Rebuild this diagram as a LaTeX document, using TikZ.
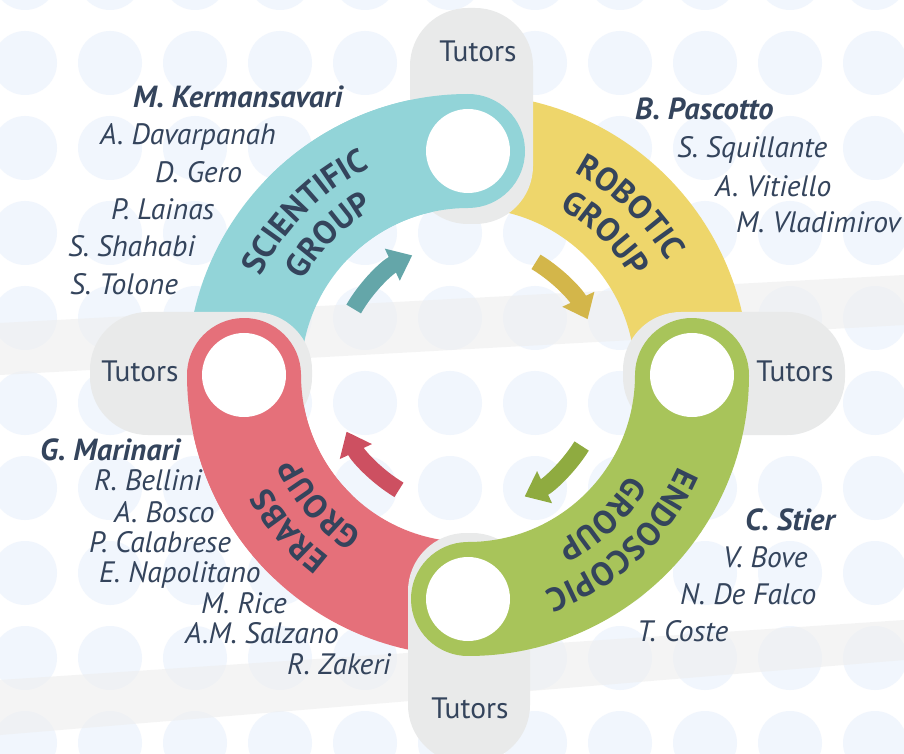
\documentclass[tikz,border=0pt]{standalone}
\usepackage{fontspec}
\setmainfont{PT Sans}
\usetikzlibrary{decorations.text,arrows.meta}
\definecolor{navy}{HTML}{34445C}
\definecolor{cyanb}{HTML}{92D4D8}
\definecolor{yelb}{HTML}{EED66B}
\definecolor{greenb}{HTML}{A8C45A}
\definecolor{redb}{HTML}{E5707A}
\definecolor{grayb}{HTML}{E9EAEA}
\definecolor{dotc}{HTML}{F1F6FD}
\definecolor{wmark}{HTML}{EEEEEE}
\definecolor{tealA}{HTML}{64A6A9}
\definecolor{yelA}{HTML}{D3B64A}
\definecolor{greenA}{HTML}{8FAB40}
\definecolor{redA}{HTML}{CD5061}
\begin{document}
\begin{tikzpicture}[x=1pt,y=1pt,
 band/.style={line width=114pt},
 tutorbox/.style={fill=grayb, rounded corners=58pt},
 hole/.style={circle, fill=white, minimum size=84pt, inner sep=0pt},
 namestyle/.style={anchor=base west, text=navy, font=\fontsize{29.5}{29.5}\selectfont\itshape, inner sep=0pt},
 leadstyle/.style={anchor=base west, text=navy, font=\fontsize{30.5}{30.5}\selectfont\bfseries\itshape, inner sep=0pt},
 tutorstyle/.style={anchor=base, text=navy, font=\fontsize{29.5}{29.5}\selectfont, inner sep=0pt},
 arr/.style={line width=17pt, -{Triangle[width=34pt,length=22pt]}},
]
\useasboundingbox (0,0) rectangle (904,753);
\fill[white] (0,0) rectangle (904,753);
% dotted background
\foreach \i in {0,...,10}{\foreach \j in {-1,...,8}{\fill[dotc] (25+85*\i, 690-85*\j) circle[radius=32pt];}}
% faint brush strokes
\fill[wmark, opacity=0.6] (0,430) -- (904,478) -- (904,428) -- (0,378) -- cycle;
\fill[wmark, opacity=0.6] (0,73) -- (904,133) -- (904,93) -- (0,18) -- cycle;
\coordinate (C) at (468,378);
% bands, first pass
\draw[band, yelb] ([shift={(90:224)}]C) arc[start angle=90, end angle=0, radius=224];
\draw[band, cyanb] ([shift={(180:224)}]C) arc[start angle=180, end angle=90, radius=224];
\draw[band, redb] ([shift={(270:224)}]C) arc[start angle=270, end angle=180, radius=224];
% tutor boxes
\fill[tutorbox] (410,529) rectangle (533,745);
\fill[tutorbox] (408,-10) rectangle (530,220);
\fill[tutorbox] (90,318) rectangle (312,441);
\fill[tutorbox] (623,318) rectangle (845,441);
% bands, second pass (over boxes)
\draw[band, cyanb, line cap=round] ([shift={(135:224)}]C) arc[start angle=135, end angle=90, radius=224];
\draw[band, redb, line cap=round] ([shift={(225:224)}]C) arc[start angle=225, end angle=180, radius=224];
\draw[band, greenb, line cap=round] ([shift={(0:224)}]C) arc[start angle=0, end angle=-90, radius=224];
% holes
\node[hole] (htop) at (468,602) {};
\node[hole] (hright) at (692,378) {};
\node[hole] (hbottom) at (468,154) {};
\node[hole] (hleft) at (244,378) {};
% arrows
\draw[arr, tealA] ([shift={(150:132)}]C) arc[start angle=150, end angle=115, radius=132];
\draw[arr, yelA] ([shift={(59:132)}]C) arc[start angle=59, end angle=25, radius=132];
\draw[arr, greenA] ([shift={(-32:134)}]C) arc[start angle=-32, end angle=-65, radius=134];
\draw[arr, redA] ([shift={(239:134)}]C) arc[start angle=239, end angle=205, radius=134];
% group labels
\def\lbl{\color{navy}\fontsize{33}{33}\selectfont\bfseries}
\path[decorate, decoration={text along path, text align=center, text={|\lbl|SCIENTIFIC}}] ([shift={(175:229)}]C) arc[start angle=175, end angle=95, radius=229];
\path[decorate, decoration={text along path, text align=center, text={|\lbl|GROUP}}] ([shift={(175:190)}]C) arc[start angle=175, end angle=95, radius=190];
\path[decorate, decoration={text along path, text align=center, text={|\lbl|ROBOTIC}}] ([shift={(86:229)}]C) arc[start angle=86, end angle=6, radius=229];
\path[decorate, decoration={text along path, text align=center, text={|\lbl|GROUP}}] ([shift={(86:190)}]C) arc[start angle=86, end angle=6, radius=190];
\path[decorate, decoration={text along path, text align=center, text={|\lbl|ENDOSCOPIC}}] ([shift={(-7:229)}]C) arc[start angle=-7, end angle=-87, radius=229];
\path[decorate, decoration={text along path, text align=center, text={|\lbl|GROUP}}] ([shift={(-7:190)}]C) arc[start angle=-7, end angle=-87, radius=190];
\path[decorate, decoration={text along path, text align=center, text={|\lbl|ERABS}}] ([shift={(261:229)}]C) arc[start angle=261, end angle=181, radius=229];
\path[decorate, decoration={text along path, text align=center, text={|\lbl|GROUP}}] ([shift={(261:190)}]C) arc[start angle=261, end angle=181, radius=190];
% tutors
\node[tutorstyle] (ttop) at (478,691) {Tutors};
\node[tutorstyle] (tleft) at (140,371) {Tutors};
\node[tutorstyle] (tright) at (795,371) {Tutors};
\node[tutorstyle] (tbottom) at (470,35) {Tutors};
% scientific names
\node[leadstyle] (s0) at (133,645) {M. Kermansavari};
\node[namestyle] (s1) at (100,608) {A. Davarpanah};
\node[namestyle] (s2) at (155,570) {D. Gero};
\node[namestyle] (s3) at (111,533) {P. Lainas};
\node[namestyle] (s4) at (68,496) {S. Shahabi};
\node[namestyle] (s5) at (70,458) {S. Tolone};
% robotic names
\node[leadstyle] (r0) at (635,633) {B. Pascotto};
\node[namestyle] (r1) at (677,595) {S. Squillante};
\node[namestyle] (r2) at (715,556) {A. Vitiello};
\node[namestyle] (r3) at (736,520) {M. Vladimirov};
% erabs names
\node[leadstyle] (e0) at (40,293) {G. Marinari};
\node[namestyle] (e1) at (94,263) {R. Bellini};
\node[namestyle] (e2) at (114,231) {A. Bosco};
\node[namestyle] (e3) at (89,201) {P. Calabrese};
\node[namestyle] (e4) at (99,171) {E. Napolitano};
\node[namestyle] (e5) at (201,140) {M. Rice};
\node[namestyle] (e6) at (185,110) {A.M. Salzano};
\node[namestyle] (e7) at (287,79) {R. Zakeri};
% endoscopic names
\node[leadstyle] (n0) at (745,223) {C. Stier};
\node[namestyle] (n1) at (723,186) {V. Bove};
\node[namestyle] (n2) at (680,149) {N. De Falco};
\node[namestyle] (n3) at (637,112) {T. Coste};
\end{tikzpicture}
\end{document}
